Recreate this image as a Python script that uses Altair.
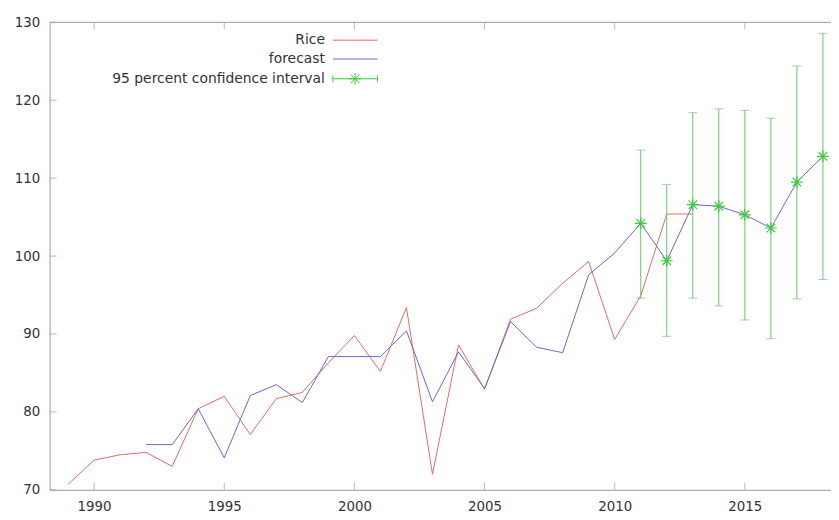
import altair as alt
import pandas as pd

# ---- data ----
rice_years = list(range(1989, 2014))
rice_values = [70.7, 73.8, 74.5, 74.8, 73.0, 80.4, 82.0, 77.1, 81.7, 82.5,
               86.3, 89.8, 85.2, 93.4, 72.0, 88.6, 82.9, 91.9, 93.3, 96.5,
               99.3, 89.3, 94.9, 105.4, 105.4]

fc_years = list(range(1992, 2019))
fc_values = [75.8, 75.8, 80.4, 74.1, 82.1, 83.5, 81.2, 87.1, 87.1, 87.1,
             90.4, 81.3, 87.7, 83.0, 91.6, 88.3, 87.6, 97.6, 100.4, 104.2,
             99.4, 106.6, 106.4, 105.3, 103.6, 109.5, 112.8]

ci_years = list(range(2011, 2019))
ci_lower = [94.6, 89.7, 94.6, 93.6, 91.8, 89.4, 94.5, 97.0]
ci_upper = [113.6, 109.2, 118.4, 118.9, 118.7, 117.7, 124.4, 128.6]

x_ticks = [1990, 1995, 2000, 2005, 2010, 2015]
y_ticks = [70, 80, 90, 100, 110, 120, 130]

X_MIN, X_MAX = 1988.29, 2018.31
Y_MIN, Y_MAX = 70, 130

RICE = "Rice"
FC = "forecast"
CI = "95 percent confidence interval"

RED = "#e86868"
BLUE = "#6666dc"
GREEN = "#3ccc3c"
GREEN_LINE = "#62c862"
CAP = "#8fae8f"
AXIS = "#9a9a9a"
TEXT = "#333333"
FONT = "DejaVu Sans"

# ---- tables ----
lines_df = pd.DataFrame({
    "year": rice_years + fc_years,
    "value": rice_values + fc_values,
    "series": [RICE] * len(rice_years) + [FC] * len(fc_years),
})
fc_lookup = dict(zip(fc_years, fc_values))
ci_df = pd.DataFrame({
    "year": ci_years,
    "center": [fc_lookup[y] for y in ci_years],
    "lower": ci_lower,
    "upper": ci_upper,
})
xt_df = pd.DataFrame({"year": x_ticks, "ybot": [Y_MIN] * len(x_ticks), "ytop": [Y_MAX] * len(x_ticks)})
yt_df = pd.DataFrame({"value": y_ticks, "xleft": [X_MIN] * len(y_ticks)})
top_df = pd.DataFrame({"value": [Y_MAX]})

xs = alt.Scale(domain=[X_MIN, X_MAX], nice=False, zero=False)
ys = alt.Scale(domain=[Y_MIN, Y_MAX], nice=False, zero=False)

x_axis = alt.Axis(values=x_ticks, format="d", ticks=False, tickSize=0, grid=False,
                  domainColor=AXIS, domainWidth=1, labelFontSize=13.5, labelColor=TEXT,
                  labelFont=FONT, labelPadding=10, labelFlush=False)
y_axis = alt.Axis(values=y_ticks, format="d", ticks=False, tickSize=0, grid=False,
                  domainColor=AXIS, domainWidth=1, labelFontSize=13.5, labelColor=TEXT,
                  labelFont=FONT, labelPadding=10, labelFlush=False)


def X(field):
    return alt.X(f"{field}:Q", scale=xs, axis=x_axis, title=None)


def Y(field):
    return alt.Y(f"{field}:Q", scale=ys, axis=y_axis, title=None)


SHAPE_LINE = "M-4.5,0H4.5"
SHAPE_CI = ("M-4.5,0H4.5M-4.5,-0.7V0.7M4.5,-0.7V0.7M-1.2,0H1.2M0,-1.2V1.2"
            "M-0.85,-0.85L0.85,0.85M-0.85,0.85L0.85,-0.85")
STAR = "M-1,0H1M0,-1V1M-0.72,-0.72L0.72,0.72M-0.72,0.72L0.72,-0.72"

color_scale = alt.Scale(domain=[RICE, FC, CI], range=[RED, BLUE, GREEN])
shape_scale = alt.Scale(domain=[RICE, FC, CI], range=[SHAPE_LINE, SHAPE_LINE, SHAPE_CI])

legend = alt.Legend(
    title=None, orient="none", legendX=301.5, legendY=11, direction="vertical",
    labelAlign="right", labelOffset={"expr": "-37.5"}, labelFontSize=14, labelFont=FONT,
    labelColor=TEXT, labelLimit=500, symbolSize=100, symbolStrokeWidth=1, rowPadding=5,
    padding=0, symbolFillColor="transparent",
)

lines = alt.Chart(lines_df).mark_line(strokeWidth=1).encode(
    x=X("year"),
    y=Y("value"),
    color=alt.Color("series:N", scale=color_scale, legend=legend),
)

# legend-only layer (no rows survive the filter; the legend comes from the scale domains)
legend_layer = alt.Chart(lines_df).transform_filter("false").mark_point(
    filled=False, size=100, strokeWidth=1, opacity=1).encode(
    x=X("year"),
    y=Y("value"),
    color=alt.Color("series:N", scale=color_scale, legend=legend),
    shape=alt.Shape("series:N", scale=shape_scale, legend=legend),
)

bars = alt.Chart(ci_df).mark_rule(color=GREEN_LINE, strokeWidth=1).encode(
    x=X("year"), y=Y("lower"), y2="upper:Q")
cap_top = alt.Chart(ci_df).mark_tick(orient="horizontal", size=9, thickness=1, color=CAP).encode(
    x=X("year"), y=Y("upper"))
cap_bot = alt.Chart(ci_df).mark_tick(orient="horizontal", size=9, thickness=1, color=CAP).encode(
    x=X("year"), y=Y("lower"))
stars = alt.Chart(ci_df).mark_point(shape=STAR, size=144, filled=False, stroke=GREEN,
                                     strokeWidth=1.2, opacity=1).encode(
    x=X("year"), y=Y("center"))

top_border = alt.Chart(top_df).mark_rule(color=AXIS, strokeWidth=1).encode(y=Y("value"))
bot_ticks = alt.Chart(xt_df).mark_tick(orient="vertical", size=7, thickness=1, color=AXIS,
                                       yOffset=-3.5).encode(x=X("year"), y=Y("ybot"))
top_ticks = alt.Chart(xt_df).mark_tick(orient="vertical", size=7, thickness=1, color=AXIS,
                                       yOffset=3.5).encode(x=X("year"), y=Y("ytop"))
left_ticks = alt.Chart(yt_df).mark_tick(orient="horizontal", size=7, thickness=1, color=AXIS,
                                        xOffset=3.5).encode(x=X("xleft"), y=Y("value"))

chart = alt.layer(
    top_border, bot_ticks, top_ticks, left_ticks,
    legend_layer, lines, bars, cap_top, cap_bot, stars,
).properties(
    width=789, height=472,
    autosize=alt.AutoSizeParams(type="none"),
    padding={"left": 42, "top": 12, "right": 0, "bottom": 28},
    background="white",
).configure_view(strokeWidth=0)

chart.save("out.html", embed_options={"renderer": "svg", "actions": False})
